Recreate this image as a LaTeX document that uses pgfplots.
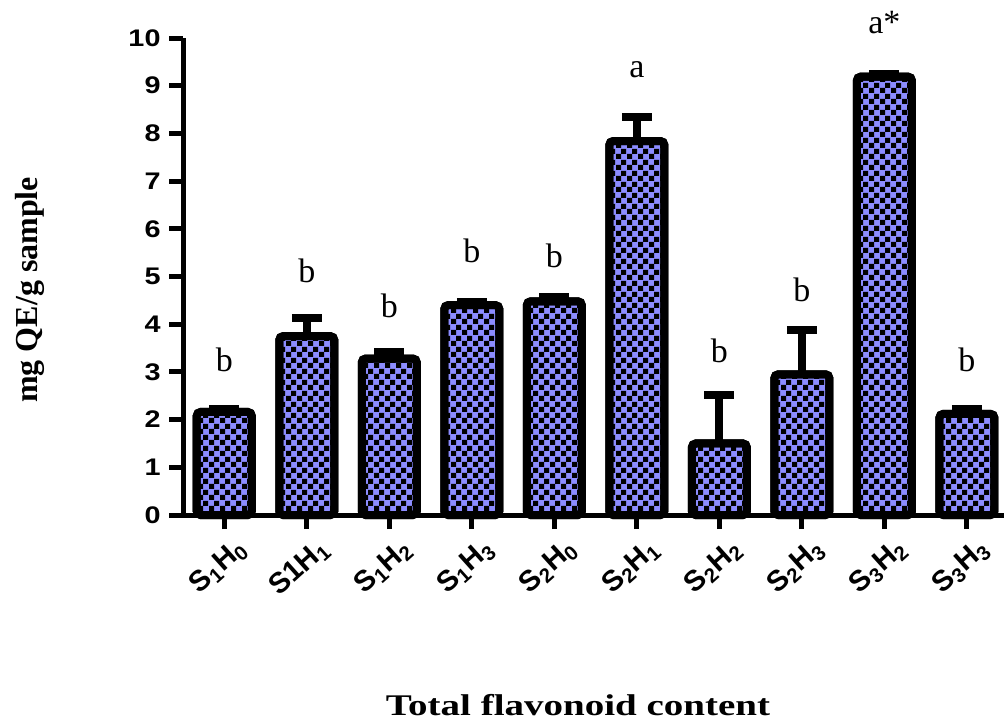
\documentclass[border=0pt]{standalone}
\usepackage{fontspec}
\setmainfont{Liberation Serif}
\setsansfont{Liberation Sans}
\usepackage{pgfplots}
\pgfplotsset{compat=1.18}
\usepackage{pgfplotstable}
\usetikzlibrary{patterns}
\definecolor{barblue}{RGB}{140,140,255}
\pgfdeclarepatternformonly{checker}{\pgfpointorigin}{\pgfqpoint{5.5pt}{5.5pt}}{\pgfqpoint{5.5pt}{5.5pt}}{%
  \pgfpathrectangle{\pgfpointorigin}{\pgfqpoint{2.75pt}{2.75pt}}%
  \pgfpathrectangle{\pgfqpoint{2.75pt}{2.75pt}}{\pgfqpoint{2.75pt}{2.75pt}}%
  \pgfusepath{fill}}
\pgfplotstableread{
x y err
0 2.16 0.06
1 3.75 0.37
2 3.28 0.13
3 4.40 0.07
4 4.48 0.08
5 7.84 0.50
6 1.50 1.02
7 2.95 0.93
8 9.19 0.06
9 2.12 0.11
}\bardata
\pgfplotstableread{
x y lab
0 3.00 b
1 4.88 b
2 4.15 b
3 5.30 b
4 5.18 b
5 9.18 a
6 3.20 b
7 4.47 b
8 10.10 a*
9 3.00 b
}\labdata
\begin{document}
\begin{tikzpicture}
\path[use as bounding box] (0,0) rectangle (502pt,359.5pt);
\begin{axis}[
  at={(91.5pt,102pt)}, anchor=south west,
  scale only axis, width=410.5pt, height=238.5pt,
  xmin=-0.5, xmax=9.45, ymin=0, ymax=10,
  clip=false,
  axis x line=bottom, axis y line=left,
  axis line style={-, line width=2.5pt, black},
  tick align=outside,
  major tick length=7pt,
  tick style={line width=2.5pt, black},
  xtick={0,...,9},
  ytick={0,...,10},
  xticklabels={S\textsubscript{1}H\textsubscript{0},S1H\textsubscript{1},S\textsubscript{1}H\textsubscript{2},S\textsubscript{1}H\textsubscript{3},S\textsubscript{2}H\textsubscript{0},S\textsubscript{2}H\textsubscript{1},S\textsubscript{2}H\textsubscript{2},S\textsubscript{2}H\textsubscript{3},S\textsubscript{3}H\textsubscript{2},S\textsubscript{3}H\textsubscript{3}},
  /pgf/number format/assume math mode=true,
  yticklabel style={font=\sffamily\bfseries\fontsize{12}{14}\selectfont, xscale=1.2},
  xticklabel style={font=\sffamily\bfseries\fontsize{14.5}{16}\selectfont, rotate=42, anchor=east, xshift=5pt, yshift=-12pt},
  xlabel={Total flavonoid content},
  xlabel style={font=\bfseries\fontsize{15}{18}\selectfont, xscale=1.3, at={(axis description cs:0.481,-0.398)}, anchor=center},
  ylabel={mg QE/g sample},
  ylabel style={font=\bfseries\fontsize{16}{18}\selectfont, at={(axis description cs:-0.186,0.472)}, anchor=center},
]
\addplot[ybar, bar width=0.667, draw=black, line width=4pt, fill=barblue,
  postaction={pattern=checker}, rounded corners=2pt,
  error bars/.cd, y dir=plus, y explicit,
  error bar style={line width=4pt, black},
  error mark options={line width=4pt, mark size=7.5pt, black, rotate=90}]
  table[x=x, y=y, y error=err] {\bardata};
\addplot[draw=none, mark=none, nodes near coords, point meta=explicit symbolic,
  nodes near coords style={anchor=base, font=\fontsize{17}{20}\selectfont, inner sep=0pt}]
  table[x=x, y=y, meta=lab] {\labdata};
\end{axis}
\end{tikzpicture}
\end{document}
